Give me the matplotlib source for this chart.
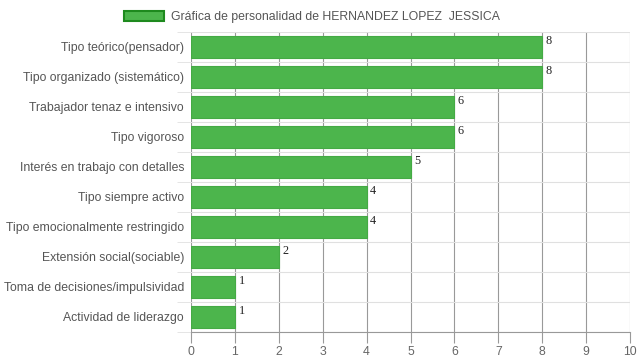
import numpy as np
import matplotlib.pyplot as plt
from matplotlib.patches import Patch

categories = ['Tipo teórico(pensador)', 'Tipo organizado (sistemático)',
              'Trabajador tenaz e intensivo', 'Tipo vigoroso',
              'Interés en trabajo con detalles', 'Tipo siempre activo',
              'Tipo emocionalmente restringido', 'Extensión social(sociable)',
              'Toma de decisiones/impulsividad', 'Actividad de liderazgo']
values = [8, 8, 6, 6, 5, 4, 4, 2, 1, 1]
series_name = 'Gráfica de personalidad de HERNANDEZ LOPEZ  JESSICA'
xticks = list(range(0, 11))

plt.rcParams['font.family'] = ['Liberation Sans', 'DejaVu Sans']

fig = plt.figure(figsize=(6.39, 3.6), dpi=100)
ax = fig.add_axes([191 / 639, 1 - 332 / 360, 439 / 639, 300 / 360])

y = np.arange(len(categories))
ax.barh(y, values, height=0.74, color='#4cb54c', edgecolor='#44aa44', linewidth=0.8, zorder=3)

# value labels at the end of each bar
for yi, v in zip(y, values):
    ax.text(v + 0.08, yi - 0.2, str(v), family='Liberation Serif', fontsize=8.8,
            color='#222222', va='center', ha='left', zorder=4)

ax.set_xlim(0, 10)
ax.set_ylim(len(categories) - 0.5, -0.5)
ax.set_xticks(xticks)
ax.set_xticklabels([str(t) for t in xticks], fontsize=8.8, color='#666666')
ax.set_yticks(y)
ax.set_yticklabels(categories, fontsize=8.8, color='#555555')
ax.set_yticks(np.arange(-0.5, len(categories), 1), minor=True)

ax.grid(axis='x', color='#999999', linewidth=0.8, zorder=0)
ax.grid(axis='y', which='minor', color='#e0e0e0', linewidth=0.8, zorder=0)
ax.tick_params(axis='y', which='major', length=0, pad=5)
ax.tick_params(axis='y', which='minor', length=10, color='#e0e0e0')
ax.tick_params(axis='x', length=8, color='#999999', pad=2)

for s in ['top', 'right', 'left']:
    ax.spines[s].set_visible(False)
ax.spines['bottom'].set_color('#999999')

handle = Patch(facecolor='#4cb54c', edgecolor='#1e8a1e', linewidth=1.5)
fig.legend([handle], [series_name], loc='upper center', bbox_to_anchor=(0.488, 1.0),
           frameon=False, fontsize=8.8, handlelength=3.3, handleheight=0.9,
           handletextpad=0.6, labelcolor='#555555')

fig.savefig('out.png', dpi=100)
